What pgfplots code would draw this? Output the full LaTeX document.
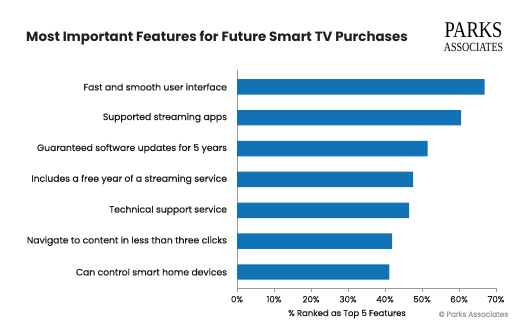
\documentclass[border=0pt]{standalone}
\usepackage{pgfplots}
\pgfplotsset{compat=1.18}
\usepackage{fontspec}
\setmainfont{Poppins}
\newfontfamily\logofont{Liberation Serif}
\newfontfamily\medfont[FakeBold=0.6]{Poppins}
\definecolor{barblue}{HTML}{1272B6}
\definecolor{axisgray}{HTML}{9A9A9A}
\definecolor{txt}{HTML}{1E1E1E}
\begin{document}
\begin{tikzpicture}
\useasboundingbox (0pt,0pt) rectangle (526pt,328pt);
\begin{axis}[
  at={(237pt,40pt)}, anchor=south west,
  scale only axis, width=259pt, height=218pt,
  xbar, bar width=0.5,
  xmin=0, xmax=70,
  ymin=-0.55, ymax=6.52, y dir=reverse,
  ytick={0,...,6},
  yticklabels={Fast and smooth user interface,Supported streaming apps,Guaranteed software updates for 5 years,Includes a free year of a streaming service,Technical support service,Navigate to content in less than three clicks,Can control smart home devices},
  ytick style={draw=none},
  yticklabel style={font=\medfont\fontsize{9.2}{11}\selectfont, text=txt, xshift=-3pt},
  xtick={0,10,...,70},
  xticklabel={\pgfmathprintnumber{\tick}\%},
  xticklabel style={font=\medfont\fontsize{8.6}{10}\selectfont, text=txt, yshift=-1pt},
  /pgf/number format/assume math mode=true,
  tick align=outside, major tick length=3.5pt,
  xtick style={axisgray, line width=0.8pt},
  axis x line*=bottom, axis y line*=left,
  axis line style={axisgray, line width=1pt, -},
  x axis line style={line width=0.8pt},
]
\addplot[fill=barblue, draw=none] coordinates {
  (66.9,0) (60.6,1) (51.5,2) (47.6,3) (46.5,4) (41.9,5) (41.2,6)
};
\end{axis}
\node[font=\fontsize{13.4}{15}\selectfont\bfseries, text=txt, anchor=west, inner sep=0pt] at (26pt,290pt) {Most Important Features for Future Smart TV Purchases};
\node[font=\medfont\fontsize{8.5}{10}\selectfont, text=txt] at (347pt,14pt) {\% Ranked as Top 5 Features};
\node[font=\medfont\fontsize{7.4}{9}\selectfont, text=axisgray] at (473.5pt,14pt) {\textcopyright{} Parks Associates};
\node[font=\logofont\fontsize{22.5}{23}\selectfont, anchor=base, inner sep=0pt, text depth=0pt] at (473.5pt,290.5pt) {\scalebox{0.82}[1]{PARKS}};
\node[font=\logofont\fontsize{12.5}{13}\selectfont, anchor=base, inner sep=0pt, text height=8.5pt] at (473.5pt,276.5pt) {\scalebox{0.8}[1]{ASSOCIATES}};
\end{tikzpicture}
\end{document}
